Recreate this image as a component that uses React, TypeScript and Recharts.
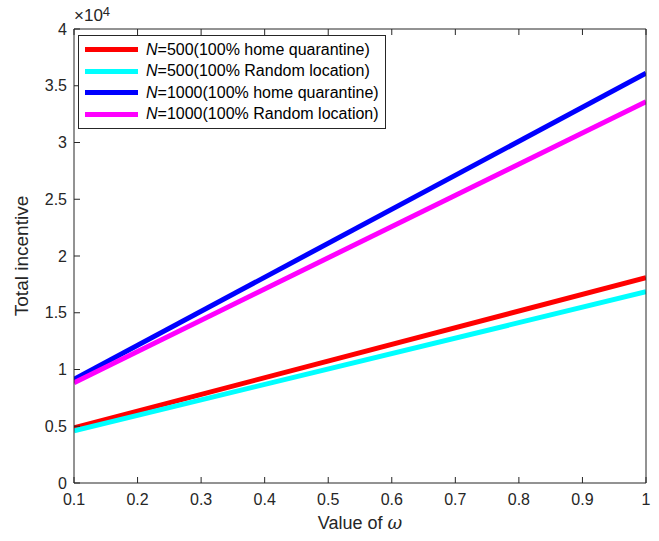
import { Label, Line, LineChart, XAxis, YAxis } from "recharts";

// omega values at the ends of each (straight) line
const omega = [0.1, 1];
const n500Home = [4870, 18090];
const n500Random = [4600, 16850];
const n1000Home = [9140, 36100];
const n1000Random = [8840, 33600];

const xTicks = [0.1, 0.2, 0.3, 0.4, 0.5, 0.6, 0.7, 0.8, 0.9, 1];
const yTicks = [0, 5000, 10000, 15000, 20000, 25000, 30000, 35000, 40000];

const series = [
  { key: "n500Home", n: "500", label: "(100% home quarantine)", color: "#ff0000" },
  { key: "n500Random", n: "500", label: "(100% Random location)", color: "#00ffff" },
  { key: "n1000Home", n: "1000", label: "(100% home quarantine)", color: "#0000ff" },
  { key: "n1000Random", n: "1000", label: "(100% Random location)", color: "#ff00ff" },
];

const data = omega.map((w, i) => ({
  w,
  n500Home: n500Home[i],
  n500Random: n500Random[i],
  n1000Home: n1000Home[i],
  n1000Random: n1000Random[i],
}));

const ink = "#262626";
const font = "'Liberation Sans', Arial, sans-serif";

function LegendBox() {
  return (
    <div
      style={{
        position: "absolute",
        left: 78,
        top: 35,
        border: `1px solid ${ink}`,
        background: "#fff",
        padding: "3px 6px 3px 6px",
        fontFamily: font,
        fontSize: 16,
        color: "#000",
        zIndex: 2,
      }}
    >
      {series.map((s) => (
        <div key={s.key} style={{ display: "flex", alignItems: "center", height: 21.5, whiteSpace: "nowrap" }}>
          <span style={{ display: "inline-block", width: 53, height: 5, background: s.color, marginRight: 8 }} />
          <span>
            <i>N</i>={s.n}
            {s.label}
          </span>
        </div>
      ))}
    </div>
  );
}

export default function App() {
  return (
    <div style={{ position: "absolute", left: 0, top: 0, width: 659, height: 541, background: "#fff" }}>
      <div style={{ position: "absolute", left: 74, top: 6, fontFamily: font, fontSize: 17, color: ink, lineHeight: "20px" }}>
        ×10<sup style={{ fontSize: 13, verticalAlign: "top", position: "relative", top: -4 }}>4</sup>
      </div>
      <LineChart
        width={659}
        height={541}
        data={data}
        margin={{ top: 28, right: 12, bottom: 28, left: 14 }}
        style={{ fontFamily: font }}
      >
        <XAxis
          xAxisId="b"
          dataKey="w"
          type="number"
          domain={[0.1, 1]}
          ticks={xTicks}
          tickFormatter={(v: number) => String(v)}
          allowDataOverflow
          stroke={ink}
          tickSize={-6}
          tickMargin={17}
          height={30}
          tick={{ fill: ink, fontSize: 16 }}
        >
          <Label
            content={() => (
              <text x={360} y={529} textAnchor="middle" fill={ink} fontSize={18} fontFamily={font}>
                Value of <tspan fontStyle="italic" fontFamily="'DejaVu Serif', serif">ω</tspan>
              </text>
            )}
          />
        </XAxis>
        <XAxis
          xAxisId="t"
          orientation="top"
          dataKey="w"
          type="number"
          domain={[0.1, 1]}
          ticks={xTicks}
          tickFormatter={() => ""}
          stroke={ink}
          tickSize={-6}
          height={1}
        />
        <YAxis
          yAxisId="l"
          domain={[0, 40000]}
          ticks={yTicks}
          tickFormatter={(v: number) => String(v / 10000)}
          stroke={ink}
          tickSize={-6}
          tickMargin={13}
          width={60}
          tick={{ fill: ink, fontSize: 16 }}
        >
          <Label
            content={() => (
              <text
                x={28}
                y={256}
                textAnchor="middle"
                fill={ink}
                fontSize={19}
                fontFamily={font}
                transform="rotate(-90 28 256)"
              >
                Total incentive
              </text>
            )}
          />
        </YAxis>
        <YAxis
          yAxisId="r"
          orientation="right"
          domain={[0, 40000]}
          ticks={yTicks}
          tickFormatter={() => ""}
          stroke={ink}
          tickSize={-6}
          width={1}
        />
        {series.map((s) => (
          <Line
            key={s.key}
            xAxisId="b"
            yAxisId="l"
            dataKey={s.key}
            stroke={s.color}
            strokeWidth={5}
            dot={false}
            isAnimationActive={false}
          />
        ))}
      </LineChart>
      <LegendBox />
    </div>
  );
}
